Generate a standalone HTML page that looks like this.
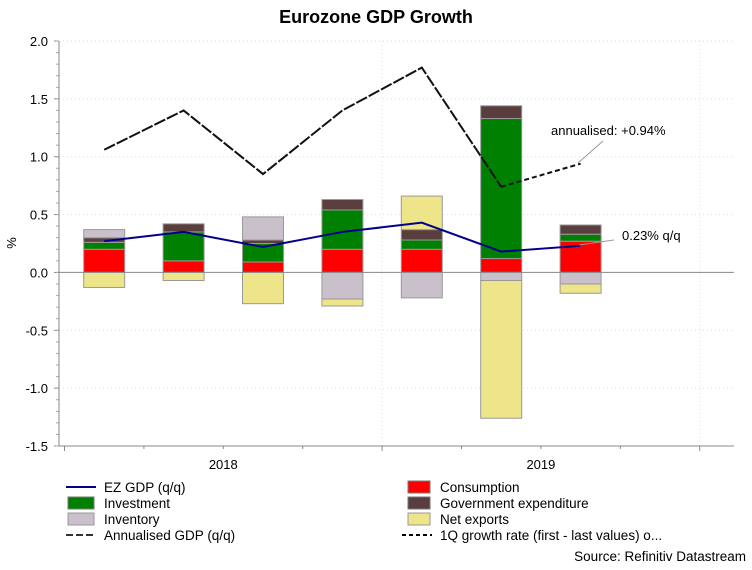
<!DOCTYPE html>
<html><head><meta charset="utf-8"><style>
body{margin:0;background:#fff;font-family:"Liberation Sans",Arial,sans-serif}
svg text{font-family:"Liberation Sans",Arial,sans-serif}
</style></head><body>
<svg id="chart" width="752" height="565" xmlns="http://www.w3.org/2000/svg">
<text x="376" y="23" text-anchor="middle" font-size="18" font-weight="bold">Eurozone GDP Growth</text>
<text transform="translate(16,243) rotate(-90)" text-anchor="middle" font-size="13">%</text>
<g id="grid"></g><g id="bars"></g><g id="lines"></g><g id="axes"></g>
<line x1="578" y1="163" x2="603" y2="141" stroke="#999"/>
<text x="551" y="135" font-size="13">annualised: +0.94%</text>
<line x1="579" y1="245" x2="614" y2="240" stroke="#999"/>
<text x="622" y="240" font-size="13">0.23% q/q</text>
<g font-size="13.5">
<line x1="66" y1="487" x2="96" y2="487" stroke="#00008b" stroke-width="2"/>
<text x="104" y="492">EZ GDP (q/q)</text>
<rect x="68" y="497" width="26" height="12" fill="#008000" stroke="#777"/>
<text x="104" y="508">Investment</text>
<rect x="68" y="513" width="26" height="12" fill="#c9c0cc" stroke="#999"/>
<text x="104" y="524">Inventory</text>
<line x1="66" y1="535" x2="96" y2="535" stroke="#333" stroke-width="2" stroke-dasharray="7,3"/>
<text x="104" y="540">Annualised GDP (q/q)</text>
<rect x="408" y="481" width="22" height="12" fill="#ff0000" stroke="#777"/>
<text x="440" y="492">Consumption</text>
<rect x="408" y="497" width="22" height="12" fill="#5a3e3e" stroke="#777"/>
<text x="440" y="508">Government expenditure</text>
<rect x="408" y="513" width="22" height="12" fill="#eee48a" stroke="#999"/>
<text x="440" y="524">Net exports</text>
<line x1="402" y1="535" x2="432" y2="535" stroke="#000" stroke-width="2" stroke-dasharray="4,3"/>
<text x="440" y="540">1Q growth rate (first - last values) o...</text>
</g>
<text x="746" y="561" text-anchor="end" font-size="13.5">Source: Refinitiv Datastream</text>
</svg>
<script>
const categories=["Q1 2018","Q2 2018","Q3 2018","Q4 2018","Q1 2019","Q2 2019","Q3 2019"];
const consumption=[0.20,0.10,0.09,0.20,0.20,0.12,0.27];
const investment=[0.06,0.25,0.16,0.34,0.08,1.21,0.06];
const government=[0.04,0.07,0.03,0.09,0.09,0.11,0.08];
const inventory=[0.07,0,0.20,-0.23,-0.22,-0.07,-0.10];
const netExports=[-0.13,-0.07,-0.27,-0.06,0.29,-1.19,-0.08];
const ezGdp=[0.27,0.35,0.22,0.35,0.43,0.18,0.23];
const annualised=[1.06,1.40,0.85,1.40,1.77,0.74,null];
const growth1Q=[null,null,null,null,null,0.74,0.94];
const yTicks=[-1.5,-1.0,-0.5,0.0,0.5,1.0,1.5,2.0];
const yearLabels=["2018","2019"];
const NS="http://www.w3.org/2000/svg";
const X0=59,X1=734,Y0=41,Y1=446,YMIN=-1.5,YMAX=2.0,Q0=64.5,QW=79.4;
const y=v=>Y1-(v-YMIN)/(YMAX-YMIN)*(Y1-Y0);
const xc=i=>Q0+QW*(i+0.5);
function mk(p,tag,at){const e=document.createElementNS(NS,tag);for(const k in at)e.setAttribute(k,at[k]);p.appendChild(e);return e;}
const grid=document.getElementById('grid'),bars=document.getElementById('bars'),lines=document.getElementById('lines'),axes=document.getElementById('axes');
yTicks.forEach(t=>{if(t!==0){const g=mk(grid,'line',{x1:X0,x2:X1,y1:y(t),y2:y(t),stroke:'#e8e0b0','stroke-dasharray':'1,3'});

}
const tx=mk(axes,'text',{x:48,y:y(t)+5,'text-anchor':'end','font-size':13});tx.textContent=t.toFixed(1);


mk(axes,'line',{x1:X0-5,x2:X0,y1:y(t),y2:y(t),stroke:'#888'});});
for(let v=YMIN;v<=YMAX+1e-9;v+=0.1)mk(axes,'line',{x1:X0-3,x2:X0,y1:y(v),y2:y(v),stroke:'#aaa'});
[0,4].forEach(k=>{const xv=Q0+QW*(k+4);const g=mk(grid,'line',{x1:xv,x2:xv,y1:Y0,y2:Y1,stroke:'#f0d8d8','stroke-dasharray':'1,3'});

});
const series=[[consumption,'#ff0000','consumption'],[investment,'#008000','investment'],[government,'#5a3e3e','government'],[inventory,'#c9c0cc','inventory'],[netExports,'#eee48a','net-exports']];
categories.forEach((c,i)=>{let pos=0,neg=0;series.forEach(([arr,col,nm])=>{const v=arr[i];if(!v)return;let a,b;if(v>0){a=pos;b=pos+v;pos=b;}else{a=neg;b=neg+v;neg=b;}
const r=mk(bars,'rect',{x:xc(i)-20.5,width:41,y:y(Math.max(a,b)),height:Math.abs(y(a)-y(b)),fill:col,stroke:'#999','stroke-width':1});

});});
const zl=mk(axes,'line',{x1:X0,x2:X1,y1:y(0),y2:y(0),stroke:'#888'});


const ax=mk(axes,'line',{x1:X0,x2:X0,y1:Y0,y2:Y1,stroke:'#888'});


const bx=mk(axes,'line',{x1:X0,x2:X1,y1:Y1,y2:Y1,stroke:'#888'});


for(let k=0;k<=8;k++){const xv=Q0+QW*k;mk(axes,'line',{x1:xv,x2:xv,y1:Y1,y2:Y1+(k%4===0?5:3),stroke:'#888'});}
yearLabels.forEach((l,k)=>{const t=mk(axes,'text',{x:Q0+QW*(4*k+2),y:Y1+23,'text-anchor':'middle','font-size':13});t.textContent=l;

});
function path(arr){let d='';arr.forEach((v,i)=>{if(v===null)return;d+=(d?'L':'M')+xc(i)+','+y(v);});return d;}
const l1=mk(lines,'path',{d:path(annualised),fill:'none',stroke:'#111','stroke-width':2,'stroke-dasharray':'12,2'});


const l2=mk(lines,'path',{d:path(growth1Q),fill:'none',stroke:'#111','stroke-width':2,'stroke-dasharray':'5,3'});


const l3=mk(lines,'path',{d:path(ezGdp),fill:'none',stroke:'#00008b','stroke-width':2});


</script>
</body></html>
